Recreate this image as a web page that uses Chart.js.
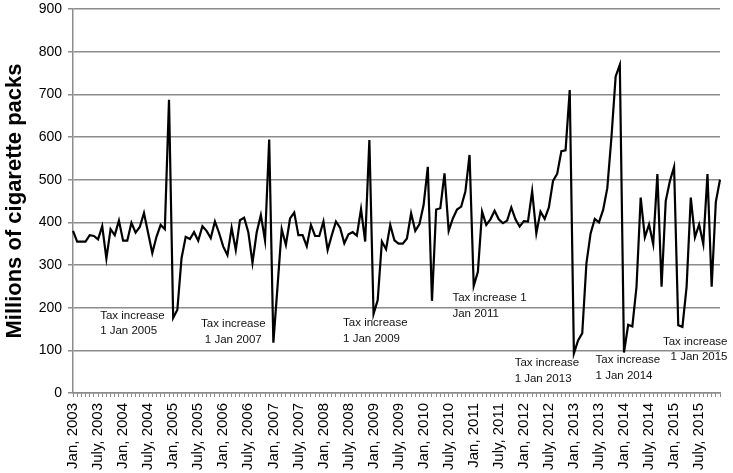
<!DOCTYPE html>
<html>
<head>
<meta charset="utf-8">
<title>Monthly cigarette pack sales</title>
<script src="https://cdn.jsdelivr.net/npm/chart.js@4.4.1/dist/chart.umd.min.js"></script>
<style>
  html, body { margin: 0; padding: 0; background: #ffffff; }
  #wrap { width: 733px; height: 473px; }
</style>
</head>
<body>
<div id="wrap"><canvas id="packsChart" width="733" height="473"></canvas></div>
<script>
// Monthly sales, millions of packs
const years = [2003, 2004, 2005, 2006, 2007, 2008, 2009, 2010, 2011, 2012, 2013, 2014, 2015];
const monthNames = ['Jan', 'Feb', 'Mar', 'Apr', 'May', 'June', 'July', 'Aug', 'Sep', 'Oct', 'Nov', 'Dec'];

const packs2003 = [380, 355, 355, 355, 370, 368, 360, 391, 315, 384, 370, 404];
const packs2004 = [357, 357, 399, 376, 389, 422, 375, 328, 366, 394, 384, 687];
const packs2005 = [176, 195, 316, 366, 361, 377, 357, 391, 380, 363, 402, 375];
const packs2006 = [343, 323, 387, 335, 405, 411, 377, 305, 376, 417, 358, 594];
const packs2007 = [118, 250, 384, 347, 409, 423, 370, 370, 344, 394, 368, 368];
const packs2008 = [402, 335, 370, 402, 387, 351, 372, 377, 369, 431, 355, 593];
const packs2009 = [185, 218, 355, 337, 394, 358, 350, 350, 362, 421, 380, 396];
const packs2010 = [441, 530, 216, 430, 433, 515, 380, 409, 430, 437, 472, 558];
const packs2011 = [251, 284, 425, 394, 407, 427, 407, 398, 404, 435, 407, 390];
const packs2012 = [403, 402, 473, 374, 425, 408, 435, 497, 514, 567, 569, 710];
const packs2013 = [93, 123, 140, 304, 374, 408, 400, 429, 480, 600, 742, 769];
const packs2014 = [95, 160, 156, 249, 458, 365, 395, 349, 513, 249, 450, 497];
const packs2015 = [530, 159, 155, 249, 458, 365, 395, 349, 513, 249, 448, 500];

const yTicks = [0, 100, 200, 300, 400, 500, 600, 700, 800, 900];

// category labels, one per month
const monthLabels = [];
years.forEach(function(y) {
    monthNames.forEach(function(m) { monthLabels.push(m + ', ' + y); });
});

const packs = [].concat(packs2003, packs2004, packs2005, packs2006, packs2007, packs2008,
    packs2009, packs2010, packs2011, packs2012, packs2013, packs2014, packs2015);

// Tax increase notes: anchored in month index / value units
const taxNotes = [
    { lines: ['Tax increase', '1 Jan 2005'], at: 6.5, value: 182, align: 'left' },
    { lines: ['Tax increase', '1 Jan 2007'], at: 38.4, value: 161, align: 'center' },
    { lines: ['Tax increase', '1 Jan 2009'], at: 64.7, value: 164, align: 'left' },
    { lines: ['Tax increase 1', 'Jan 2011'], at: 90.9, value: 223, align: 'left' },
    { lines: ['Tax increase', '1 Jan 2013'], at: 105.8, value: 70, align: 'left' },
    { lines: ['Tax increase', '1 Jan 2014'], at: 125.2, value: 77, align: 'left' },
    { lines: ['Tax increase', '1 Jan 2015'], at: 156.8, value: 120, align: 'right' }
];

const FONT = "'Liberation Sans', Arial, sans-serif";

const notesPlugin = {
    id: 'taxNotes',
    afterDatasetsDraw: function(chart) {
        const ctx = chart.ctx;
        const xs = chart.scales.x, ys = chart.scales.y;
        ctx.save();
        ctx.font = '11.5px ' + FONT;
        ctx.fillStyle = '#111111';
        ctx.textBaseline = 'middle';
        taxNotes.forEach(function(n) {
            const x = xs.getPixelForValue(n.at);
            const y = ys.getPixelForValue(n.value);
            ctx.textAlign = n.align;
            n.lines.forEach(function(line, i) {
                ctx.fillText(line, x, y + i * 15.5);
            });
        });
        ctx.restore();
    }
};

new Chart(document.getElementById('packsChart').getContext('2d'), {
    type: 'line',
    data: {
        labels: monthLabels,
        datasets: [{
            data: packs,
            borderColor: '#000000',
            borderWidth: 2.2,
            pointRadius: 0,
            tension: 0,
            fill: false
        }]
    },
    options: {
        responsive: false,
        devicePixelRatio: 1,
        animation: false,
        layout: { padding: { left: 2, right: 13, top: 9, bottom: 2 } },
        plugins: {
            legend: { display: false },
            tooltip: { enabled: false }
        },
        scales: {
            x: {
                afterFit: function(scale) {
                    scale.height = 78;
                    scale.paddingLeft = 0;
                    scale.paddingRight = 0;
                },
                grid: { drawOnChartArea: false, drawTicks: true, tickLength: 4, color: '#8c8c8c' },
                border: { display: true, color: '#8c8c8c', width: 1.5 },
                ticks: {
                    autoSkip: false,
                    maxRotation: 90,
                    minRotation: 90,
                    padding: 6,
                    color: '#000000',
                    font: { family: FONT, size: 15 },
                    callback: function(value, index) {
                        return index % 6 === 0 ? monthLabels[index] : '';
                    }
                }
            },
            y: {
                min: 0,
                max: 900,
                afterBuildTicks: function(scale) {
                    scale.ticks = yTicks.map(function(v) { return { value: v }; });
                },
                afterFit: function(scale) {
                    scale.width = 71;
                    scale.paddingTop = 0;
                    scale.paddingBottom = 0;
                },
                grid: { color: '#8c8c8c', lineWidth: 1.5, tickLength: 5 },
                border: { display: true, color: '#8c8c8c', width: 1.5 },
                ticks: {
                    padding: 6,
                    color: '#000000',
                    font: { family: FONT, size: 14 }
                },
                title: {
                    display: true,
                    text: 'Millions of cigarette packs',
                    color: '#000000',
                    font: { family: FONT, size: 22, weight: 'bold' },
                    padding: { top: 0, bottom: 8 }
                }
            }
        }
    },
    plugins: [notesPlugin]
});
</script>
</body>
</html>
